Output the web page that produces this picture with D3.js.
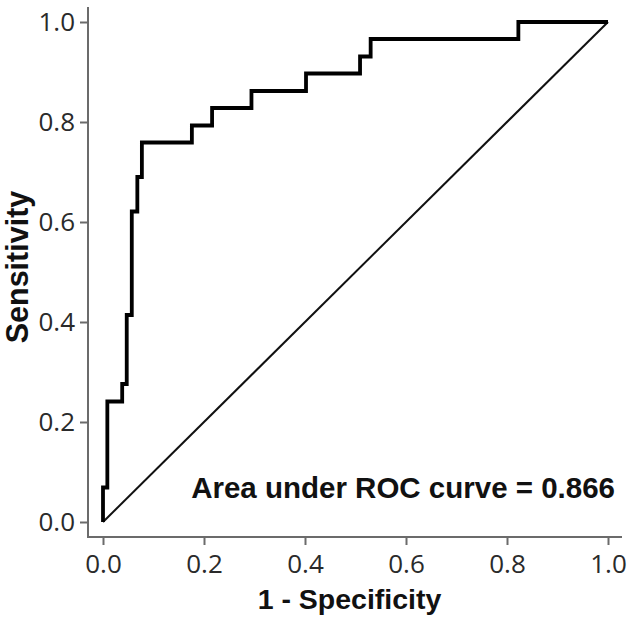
<!DOCTYPE html>
<html>
<head>
<meta charset="utf-8">
<script src="https://cdn.jsdelivr.net/npm/d3@7"></script>
<style>
  html, body { margin: 0; padding: 0; background: #fff; }
  svg { display: block; }
</style>
</head>
<body>
<svg id="chart" width="630" height="623"></svg>
<script>
// ROC curve vertices (1 - specificity, sensitivity)
const fpr = [0, 0, 0.0086, 0.0086, 0.038, 0.038, 0.047, 0.047, 0.057, 0.057, 0.068, 0.068,
             0.077, 0.077, 0.176, 0.176, 0.216, 0.216, 0.294, 0.294, 0.402, 0.402,
             0.509, 0.509, 0.530, 0.530, 0.8225, 0.8225, 1.0];
const tpr = [0, 0.069, 0.069, 0.241, 0.241, 0.276, 0.276, 0.414, 0.414, 0.621, 0.621, 0.690,
             0.690, 0.759, 0.759, 0.793, 0.793, 0.828, 0.828, 0.862, 0.862, 0.897,
             0.897, 0.931, 0.931, 0.966, 0.966, 1.0, 1.0];
// Reference (chance) line
const refX = [0, 1];
const refY = [0, 1];
const xTicks = [0, 0.2, 0.4, 0.6, 0.8, 1.0];
const yTicks = [0, 0.2, 0.4, 0.6, 0.8, 1.0];
const xTitle = "1 - Specificity";
const yTitle = "Sensitivity";
const aucLabel = "Area under ROC curve = 0.866";

const svg = d3.select("#chart");
const x = d3.scaleLinear().domain([0, 1]).range([103, 608]);
const y = d3.scaleLinear().domain([0, 1]).range([522, 22]);

const axisColor = "#6b6b6b";
const tickFont = "'Open Sans', 'Noto Sans', sans-serif";
const boldFont = "'Liberation Sans', Arial, sans-serif";

// axes
const gx = svg.append("g").attr("transform", "translate(0,537)")
  .call(d3.axisBottom(x).tickValues(xTicks).tickFormat(d3.format(".1f")).tickSize(8).tickPadding(8));
const gy = svg.append("g").attr("transform", "translate(88,0)")
  .call(d3.axisLeft(y).tickValues(yTicks).tickFormat(d3.format(".1f")).tickSize(8).tickPadding(5));
[gx, gy].forEach(g => {
  g.select(".domain").remove();
  g.selectAll(".tick line").attr("stroke", axisColor).attr("stroke-width", 2);
  g.selectAll(".tick text").attr("fill", "#2a2a2a").style("font-family", tickFont).style("font-size", "26px");
});
gx.selectAll(".tick text").attr("dy", "0.75em");

// axis lines
svg.append("line").attr("x1", 88).attr("x2", 88).attr("y1", 7).attr("y2", 538)
  .attr("stroke", axisColor).attr("stroke-width", 2);
svg.append("line").attr("x1", 87).attr("x2", 622).attr("y1", 537).attr("y2", 537)
  .attr("stroke", axisColor).attr("stroke-width", 2);

// reference diagonal
svg.append("path")
  .datum(refX.map((d, i) => [d, refY[i]]))
  .attr("d", d3.line().x(d => x(d[0])).y(d => y(d[1])))
  .attr("fill", "none").attr("stroke", "#111").attr("stroke-width", 2);

// ROC curve
svg.append("path")
  .datum(fpr.map((d, i) => [d, tpr[i]]))
  .attr("d", d3.line().x(d => x(d[0])).y(d => y(d[1])))
  .attr("fill", "none").attr("stroke", "#000").attr("stroke-width", 3.8)
  .attr("stroke-linejoin", "miter");

// titles
svg.append("text").attr("x", 349.5).attr("y", 609).attr("text-anchor", "middle")
  .style("font-family", boldFont).style("font-weight", "bold").style("font-size", "28.5px")
  .attr("fill", "#111").text(xTitle);
svg.append("text").attr("transform", "translate(28,267) rotate(-90)").attr("text-anchor", "middle")
  .style("font-family", boldFont).style("font-weight", "bold").style("font-size", "30.5px")
  .attr("fill", "#111").text(yTitle);

// AUC annotation
svg.append("text").attr("x", 615).attr("y", 498).attr("text-anchor", "end")
  .style("font-family", boldFont).style("font-weight", "bold").style("font-size", "29.5px")
  .attr("fill", "#111").text(aucLabel);
</script>
</body>
</html>
